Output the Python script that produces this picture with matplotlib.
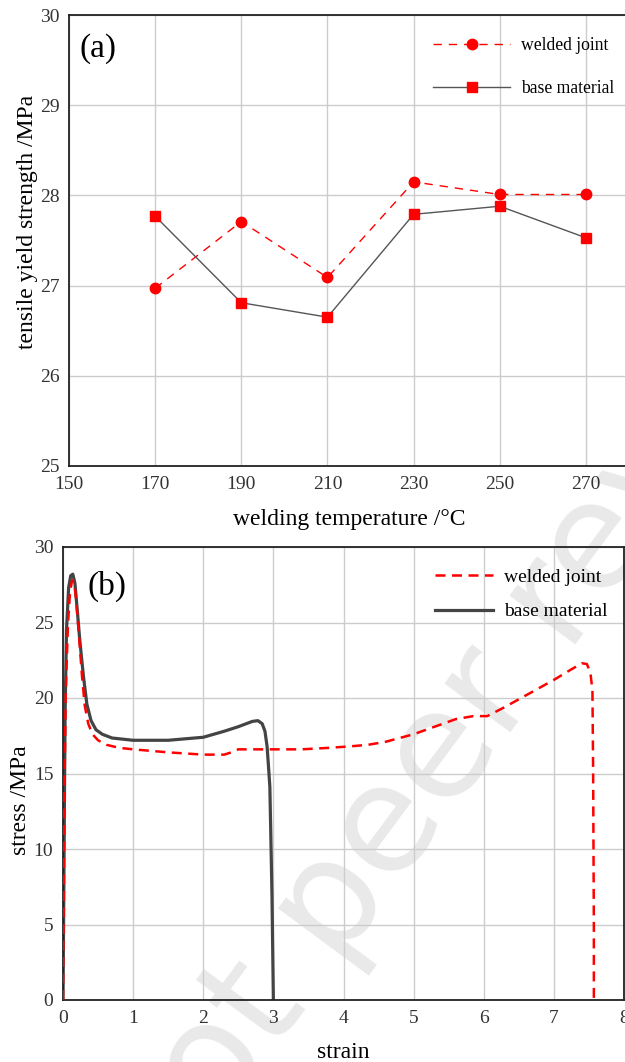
import matplotlib
matplotlib.use('Agg')
import matplotlib.pyplot as plt
from matplotlib.lines import Line2D

plt.rcParams['font.family'] = ['Liberation Serif', 'DejaVu Serif']

# (a) yield strength vs welding temperature
temps = [170, 190, 210, 230, 250, 270]
welded_yield = [26.97, 27.71, 27.09, 28.15, 28.01, 28.01]
base_yield = [27.77, 26.81, 26.65, 27.79, 27.88, 27.53]

# (b) stress-strain curves
base_strain = [0, 0.01, 0.02, 0.03, 0.05, 0.08, 0.11, 0.14, 0.17, 0.20, 0.24, 0.29,
               0.34, 0.40, 0.47, 0.56, 0.70, 1.0, 1.5, 2.0, 2.3, 2.5, 2.7, 2.78,
               2.84, 2.88, 2.91, 2.93, 2.95, 2.98, 3.0]
base_stress = [0, 6, 13, 19, 24.5, 27.3, 28.1, 28.2, 27.6, 26.0, 23.8, 21.5,
               19.6, 18.5, 17.9, 17.6, 17.35, 17.2, 17.2, 17.4, 17.8, 18.1, 18.45, 18.5,
               18.3, 17.8, 16.8, 15.5, 14.1, 7, 0]
weld_strain = [0, 0.01, 0.02, 0.04, 0.07, 0.10, 0.13, 0.16, 0.19, 0.23, 0.27, 0.31,
               0.36, 0.42, 0.5, 0.62, 0.8, 1.0, 1.5, 2.0, 2.3, 2.4, 2.5, 2.7,
               3.0, 3.4, 3.8, 4.1, 4.35, 4.6, 5.0, 5.3, 5.6, 5.85, 6.05, 6.3,
               6.65, 7.0, 7.25, 7.4, 7.47, 7.52, 7.55, 7.56, 7.57, 7.57]
weld_stress = [0, 7, 14, 20.5, 24.8, 27.0, 27.8, 27.6, 26.4, 24.0, 21.5, 19.5,
               18.3, 17.6, 17.2, 16.9, 16.7, 16.6, 16.4, 16.25, 16.25, 16.4, 16.6, 16.6,
               16.6, 16.6, 16.7, 16.8, 16.9, 17.1, 17.6, 18.1, 18.6, 18.8, 18.8, 19.4,
               20.3, 21.2, 21.9, 22.3, 22.25, 21.7, 20.5, 15, 5, 0]

W, H = 625, 1062
fig = plt.figure(figsize=(W / 100, H / 100), dpi=100)

# faint watermark behind everything
fig.text(535 / W, 1 - 630 / H, 'not peer reviewed', fontsize=108, family='DejaVu Sans',
         color='#e9e9e9', rotation=53.5, ha='center', va='center',
         rotation_mode='anchor', zorder=-1)

tick_color = '#333333'
grid_color = '#cccccc'


def style(ax):
    ax.set_facecolor('none')
    ax.grid(True, color=grid_color, linewidth=1.0)
    ax.set_axisbelow(True)
    ax.tick_params(length=0, labelsize=14, labelcolor=tick_color, pad=7)
    for s in ax.spines.values():
        s.set_linewidth(1.3)
        s.set_color('#222222')


# ---- (a) ----
ax1 = fig.add_axes([69 / W, 1 - 466 / H, 560 / W, 451 / H])
style(ax1)
ax1.spines['right'].set_visible(False)
ax1.plot(temps, welded_yield, color='red', linestyle=(0, (6, 5)), linewidth=1.0,
         marker='o', markersize=7.5, label='welded joint')
ax1.plot(temps, base_yield, color='#555555', linewidth=1.0,
         marker='s', markersize=6.8, markerfacecolor='red', markeredgecolor='red',
         label='base material')
ax1.set_xlim(150, 280)
ax1.set_ylim(25, 30)
ax1.set_xticks(range(150, 280, 20))
ax1.set_yticks(range(25, 31))
ax1.set_xlabel('welding temperature /°C', fontsize=17, labelpad=12)
ax1.set_ylabel('tensile yield strength /MPa', fontsize=17)
ax1.yaxis.set_label_coords(-31 / 560, 0.541)
ax1.text(0.018, 0.96, '(a)', transform=ax1.transAxes, fontsize=24, va='top', ha='left')
ax1.legend(frameon=False, loc='upper left', bbox_to_anchor=(0.634, 0.97), fontsize=12.7,
           handlelength=4.4, handletextpad=0.6, labelspacing=1.45, borderpad=0)

# ---- (b) ----
ax2 = fig.add_axes([63 / W, 1 - 1000 / H, 561 / W, 453 / H])
style(ax2)
ax2.plot(weld_strain, weld_stress, color='red', linestyle=(0, (4, 2.6)), linewidth=1.8,
         label='welded joint', zorder=3)
ax2.plot(base_strain, base_stress, color='#444444', linewidth=2.3,
         label='base material', zorder=2)
ax2.set_xlim(0, 8)
ax2.set_ylim(0, 30)
ax2.set_xticks(range(0, 9))
ax2.set_yticks(range(0, 31, 5))
ax2.set_xlabel('strain', fontsize=17, labelpad=11)
ax2.set_ylabel('stress /MPa', fontsize=17)
ax2.yaxis.set_label_coords(-32 / 561, 0.44)
ax2.text(0.043, 0.948, '(b)', transform=ax2.transAxes, fontsize=24, va='top', ha='left')
handles = [Line2D([], [], color='red', linestyle=(0, (4, 2.6)), linewidth=1.8),
           Line2D([], [], color='#444444', linewidth=2.3)]
ax2.legend(handles, ['welded joint', 'base material'], frameon=False, loc='upper left',
           bbox_to_anchor=(0.645, 0.974), fontsize=14, handlelength=3.0,
           handletextpad=0.57, labelspacing=0.86, borderpad=0)

fig.savefig('out.png', dpi=100)
